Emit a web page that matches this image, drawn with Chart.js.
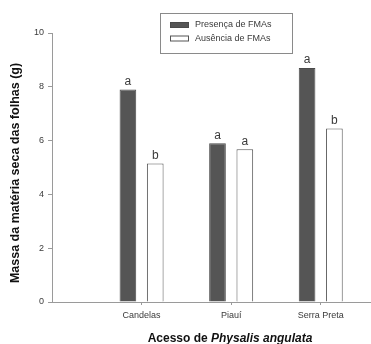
<!DOCTYPE html>
<html>
<head>
<meta charset="utf-8">
<script src="https://cdn.jsdelivr.net/npm/chart.js@4"></script>
<style>
  html, body { margin: 0; padding: 0; background: #fff; }
  canvas { display: block; }
</style>
</head>
<body>
<canvas id="chart" width="371" height="344"></canvas>
<script>
// dados
const categories = ["Candelas", "Piauí", "Serra Preta"];
const seriesNames = ["Presença de FMAs", "Ausência de FMAs"];
const presenca = [7.9, 5.9, 8.7];
const ausencia = [5.15, 5.68, 6.45];
const letrasPresenca = ["a", "a", "a"];
const letrasAusencia = ["b", "a", "b"];
const yTicks = [0, 2, 4, 6, 8, 10];
const yTitle = "Massa da matéria seca das folhas (g)";

const dark = "#555555";
const axisGray = "#9a9a9a";
const textGray = "#3a3a3a";
const fam = "'Liberation Sans', Arial, sans-serif";

// letras acima das barras
const letterPlugin = {
  id: "letters",
  afterDatasetsDraw(chart) {
    const ctx = chart.ctx;
    const letters = [letrasPresenca, letrasAusencia];
    ctx.save();
    ctx.font = "12px " + fam;
    ctx.fillStyle = textGray;
    ctx.textAlign = "center";
    ctx.textBaseline = "bottom";
    letters.forEach((list, d) => {
      chart.getDatasetMeta(d).data.forEach((bar, i) => {
        ctx.fillText(list[i], bar.x, bar.y - 2);
      });
    });
    ctx.restore();
  }
};

// legenda em caixa + titulos dos eixos
const extrasPlugin = {
  id: "extras",
  afterDraw(chart) {
    const ctx = chart.ctx;
    ctx.save();
    // caixa da legenda
    ctx.strokeStyle = "#8a8a8a";
    ctx.lineWidth = 1;
    ctx.fillStyle = "#fff";
    ctx.fillRect(160.5, 13.5, 132, 40);
    ctx.strokeRect(160.5, 13.5, 132, 40);
    const rows = [25, 38.5];
    ctx.font = "9px " + fam;
    ctx.textBaseline = "middle";
    ctx.textAlign = "left";
    chart.data.datasets.forEach((ds, i) => {
      const y = rows[i];
      ctx.fillStyle = ds.backgroundColor;
      ctx.fillRect(170, y - 2.5, 19, 5);
      ctx.strokeStyle = ds.borderColor;
      ctx.strokeRect(170.5, y - 2.5, 18, 5);
      ctx.fillStyle = textGray;
      ctx.fillText(ds.label, 195, y);
    });

    // titulo do eixo y
    ctx.save();
    ctx.translate(15.5, 173);
    ctx.rotate(-Math.PI / 2);
    ctx.font = "bold 12.5px " + fam;
    ctx.fillStyle = "#111";
    ctx.textAlign = "center";
    ctx.textBaseline = "middle";
    ctx.fillText(yTitle, 0, 0);
    ctx.restore();

    // titulo do eixo x
    const part1 = "Acesso de ";
    const part2 = "Physalis angulata";
    const f1 = "bold 12px " + fam;
    const f2 = "italic bold 12px " + fam;
    ctx.font = f1;
    const w1 = ctx.measureText(part1).width;
    ctx.font = f2;
    const w2 = ctx.measureText(part2).width;
    let x = 230 - (w1 + w2) / 2;
    ctx.fillStyle = "#111";
    ctx.textAlign = "left";
    ctx.textBaseline = "middle";
    ctx.font = f1;
    ctx.fillText(part1, x, 338.5);
    ctx.font = f2;
    ctx.fillText(part2, x + w1, 338.5);
    ctx.restore();
  }
};

const ctx = document.getElementById("chart").getContext("2d");
new Chart(ctx, {
  type: "bar",
  data: {
    datasets: [
      {
        label: seriesNames[0],
        data: presenca.map((v, i) => ({ x: i, y: v })),
        backgroundColor: dark,
        borderColor: "#4a4a4a",
        borderWidth: 1
      },
      {
        label: seriesNames[1],
        data: ausencia.map((v, i) => ({ x: i, y: v })),
        backgroundColor: "#ffffff",
        borderColor: "#555555",
        borderWidth: 1
      }
    ]
  },
  options: {
    responsive: false,
    animation: false,
    categoryPercentage: 0.61,
    barPercentage: 0.61,
    layout: { padding: { top: 33, right: 1, left: 0, bottom: 0 } },
    plugins: {
      legend: { display: false },
      tooltip: { enabled: false }
    },
    scales: {
      x: {
        type: "linear",
        min: -1,
        max: 2.55,
        bounds: "data",
        offset: false,
        afterBuildTicks: axis => {
          axis.ticks = categories.map((c, i) => ({ value: i }));
        },
        afterFit: axis => { axis.height = 42; },
        grid: {
          drawOnChartArea: false,
          drawTicks: true,
          tickLength: 3,
          color: axisGray,
          offset: false
        },
        border: { color: axisGray },
        ticks: {
          color: textGray,
          font: { family: fam, size: 9 },
          padding: 5,
          maxRotation: 0,
          autoSkip: false,
          callback: v => categories[v]
        }
      },
      y: {
        min: 0,
        max: 10,
        afterBuildTicks: axis => {
          axis.ticks = yTicks.map(v => ({ value: v }));
        },
        afterFit: axis => { axis.width = 52; },
        grid: {
          drawOnChartArea: false,
          drawTicks: true,
          tickLength: 4,
          color: axisGray
        },
        border: { color: axisGray },
        ticks: {
          color: textGray,
          font: { family: fam, size: 9 },
          padding: 4
        }
      }
    }
  },
  plugins: [letterPlugin, extrasPlugin]
});
</script>
</body>
</html>
